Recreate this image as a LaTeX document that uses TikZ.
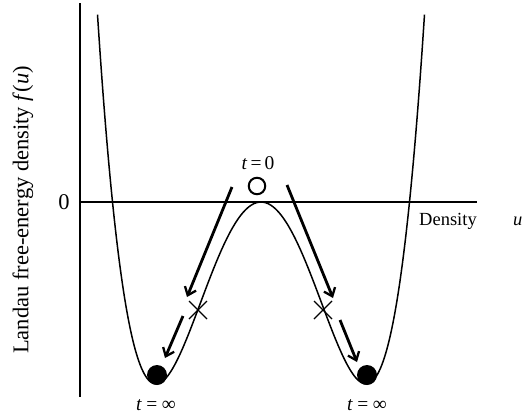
\documentclass[tikz,border=0pt]{standalone}
\usepackage{fontspec}
\setmainfont{Liberation Serif}
\usetikzlibrary{arrows.meta}
\begin{document}
\begin{tikzpicture}[x=1pt,y=-1pt,
  lbl/.style={font=\fontsize{18.5}{20}\selectfont, inner sep=0pt},
  tlbl/.style={font=\fontsize{19.5}{21}\selectfont, inner sep=0pt},
  biglbl/.style={font=\fontsize{22.5}{24}\selectfont, inner sep=0pt},
  axisline/.style={line width=1.6pt},
  curveline/.style={line width=1.5pt},
  motion/.style={line width=2.8pt, -{Straight Barb[length=7.5pt,width=12pt,line width=2.3pt]}},
  xmark/.style={line width=1.2pt},
  ball/.style={circle, fill=black, minimum size=20pt, inner sep=0pt},
  openball/.style={circle, draw=black, line width=2pt, minimum size=16.5pt, inner sep=0pt}]
\useasboundingbox (0,0) rectangle (522,415);
% axes
\coordinate (ytop) at (80,3);
\coordinate (ybot) at (80,397);
\coordinate (x0) at (80,202);
\coordinate (xend) at (477,202);
\draw[axisline] (ytop) -- (ybot);
\draw[axisline] (x0) -- (xend);
% double-well curve
\draw[curveline, smooth, samples=120, domain=97.5:424.5]
  plot (\x, {384 - 182*((((\x-261)/105)^2 - 1)^2)});
% labels
\node[biglbl, rotate=90] (ylab) at (23,210) {Landau free-energy density \textit{f}(\textit{u})};
\node[biglbl] (zero) at (64,202) {0};
\node[lbl, anchor=base west] (dens) at (419,225) {Density};
\node[lbl, anchor=base west] (uvar) at (513,225) {\textit{u}};
\node[tlbl] (t0) at (258,163) {\textit{t}\kern3pt=\kern3pt0};
\node[tlbl] (tinfL) at (156,405) {\textit{t}\kern4.5pt=\kern4.5pt∞};
\node[tlbl] (tinfR) at (367,405) {\textit{t}\kern4.5pt=\kern4.5pt∞};
% balls
\node[openball] (start) at (257,186) {};
\node[ball] (endL) at (157,375) {};
\node[ball] (endR) at (367,375) {};
% arrows
\coordinate (a1s) at (232,187); \coordinate (a1e) at (187,297);
\coordinate (a2s) at (287,185); \coordinate (a2e) at (333,298);
\coordinate (a3s) at (183,316); \coordinate (a3e) at (165,358);
\coordinate (a4s) at (340,320); \coordinate (a4e) at (357,362);
\draw[motion] (a1s) -- (a1e);
\draw[motion] (a2s) -- (a2e);
\draw[motion] (a3s) -- (a3e);
\draw[motion] (a4s) -- (a4e);
% crosses
\coordinate (xL) at (198,310);
\coordinate (xR) at (323,310);
\draw[xmark] ([shift={(-9,-9)}]xL) -- ([shift={(9,9)}]xL);
\draw[xmark] ([shift={(-9,9)}]xL) -- ([shift={(9,-9)}]xL);
\draw[xmark] ([shift={(-9,-9)}]xR) -- ([shift={(9,9)}]xR);
\draw[xmark] ([shift={(-9,9)}]xR) -- ([shift={(9,-9)}]xR);
\end{tikzpicture}
\end{document}
